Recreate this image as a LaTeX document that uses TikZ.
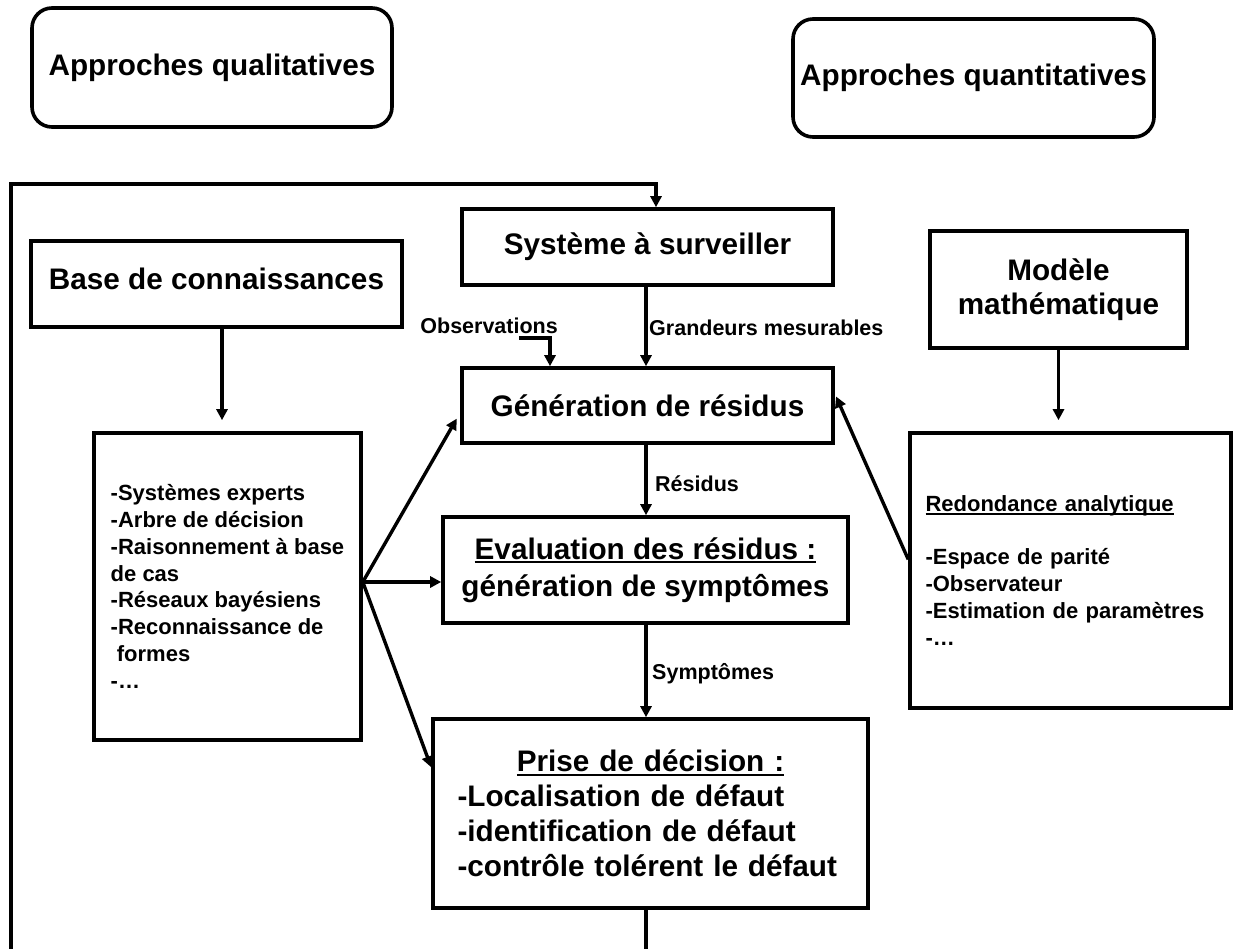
\documentclass[tikz,border=0pt]{standalone}
\usepackage{fontspec}
\setmainfont{Liberation Sans}
\usetikzlibrary{arrows.meta,calc}
\newcommand\myul[2][-4pt]{\setbox0=\hbox{#2}\leavevmode\rlap{\rule[#1]{\wd0}{2.2pt}}\box0}
\tikzset{
  box/.style={draw, line width=3.6pt, rectangle, inner sep=0pt, align=center,
    font=\bfseries\fontsize{29.7}{35}\selectfont},
  rbox/.style={box, rounded corners=20pt},
  lst/.style={draw, line width=3.6pt, rectangle, inner sep=0pt, align=left,
    font=\bfseries\fontsize{22}{26.8}\selectfont},
  lbl/.style={inner sep=0pt, anchor=base west, font=\bfseries\fontsize{21.5}{25}\selectfont},
  conn/.style={line width=3.4pt, -{Triangle[length=11pt,width=11pt]}},
  plainline/.style={line width=3.4pt},
}
\begin{document}
\begin{tikzpicture}[x=1pt,y=-1pt]
\fill[white] (0,0) rectangle (1233,949);
\useasboundingbox (0,0) rectangle (1233,949);

% boxes
\node[rbox, minimum width=360, minimum height=119] (qual) at (212,67.5) {Approches qualitatives};
\node[rbox, minimum width=361, minimum height=118] (quant) at (973.5,78) {Approches quantitatives};
\node[box, minimum width=371, minimum height=76] (sys) at (647.5,247) {Système à surveiller};
\node[box, minimum width=371, minimum height=86, text depth=10pt] (base) at (216.5,284) {Base de connaissances};
\node[box, minimum width=371, minimum height=75] (gen) at (647.5,405.5) {Génération de résidus};
\node[box, minimum width=257, minimum height=117, font=\bfseries\fontsize{29.7}{34}\selectfont] (mod) at (1058.5,289.5) {Modèle\\mathématique};
\node[lst, minimum width=267, minimum height=307] (list) at (227.5,586.5)
  {-Systèmes experts\\-Arbre de décision\\-Raisonnement à base\\de cas\\-Réseaux bayésiens\\-Reconnaissance de\\\hspace*{0.28em}formes\\-…};
\node[box, minimum width=405, minimum height=106, font=\bfseries\fontsize{29.7}{37}\selectfont] (eval) at (645.5,570)
  {\myul{Evaluation des résidus :}\\génération de symptômes};
\node[lst, minimum width=321, minimum height=275, text width=290] (red) at (1070.5,570.5)
  {\myul[-3pt]{Redondance analytique}\\[26pt]-Espace de parité\\-Observateur\\-Estimation de paramètres\\-…};
\node[box, minimum width=435, minimum height=189, text width=386, align=left] (prise) at (650.5,813.5)
  {\hfill\myul{Prise de décision :}\hfill\null\\-Localisation de défaut\\-identification de défaut\\-contrôle tolérent le défaut};

% labels
\node[lbl, anchor=base east] (obs) at (558,334) {Observations};
\node[lbl] (gr) at (649,335) {Grandeurs mesurables};
\node[lbl] (res) at (655,491) {Résidus};
\node[lbl] (sym) at (652,679) {Symptômes};

% helper coordinates
\coordinate (col) at (646,0);
\coordinate (fbb) at (11,949);
\coordinate (fbt) at (656,184);
\coordinate (bl) at (222,0);
\coordinate (o1) at (519,338);
\coordinate (o2) at (550,338);
\coordinate (apex) at ($(list.east)+(0,-4.5)$);
\coordinate (rp) at ($(red.north west)!0.46!(red.south west)$);

% feedback loop
\draw[conn, line join=miter] (fbb) |- (fbt) -- (fbt |- sys.north);
\draw[plainline] (col |- prise.south) -- (col |- fbb);

% main column
\draw[conn] (col |- sys.south) -- (col |- gen.north);
\draw[conn] (col |- gen.south) -- (col |- eval.north);
\draw[conn] (col |- eval.south) -- (col |- prise.north);

% observations
\draw[conn] (o1) -- (o2) -- (o2 |- gen.north);

% side inputs
\draw[conn, shorten >=11pt] (bl |- base.south) -- (bl |- list.north);
\draw[conn, shorten >=11pt] (mod.south) -- (mod.south |- red.north);

% fan from list
\draw[conn, line cap=round, shorten >=7pt] (apex) -- ($(gen.north west)!0.59!(gen.south west)$);
\draw[conn, line cap=round] (apex) -- (apex -| eval.west);
\draw[conn, line cap=round] (apex) -- ($(prise.north west)!0.26!(prise.south west)$);
\draw[conn, shorten >=3pt] (rp) -- ($(gen.north east)!0.35!(gen.south east)$);
\end{tikzpicture}
\end{document}
